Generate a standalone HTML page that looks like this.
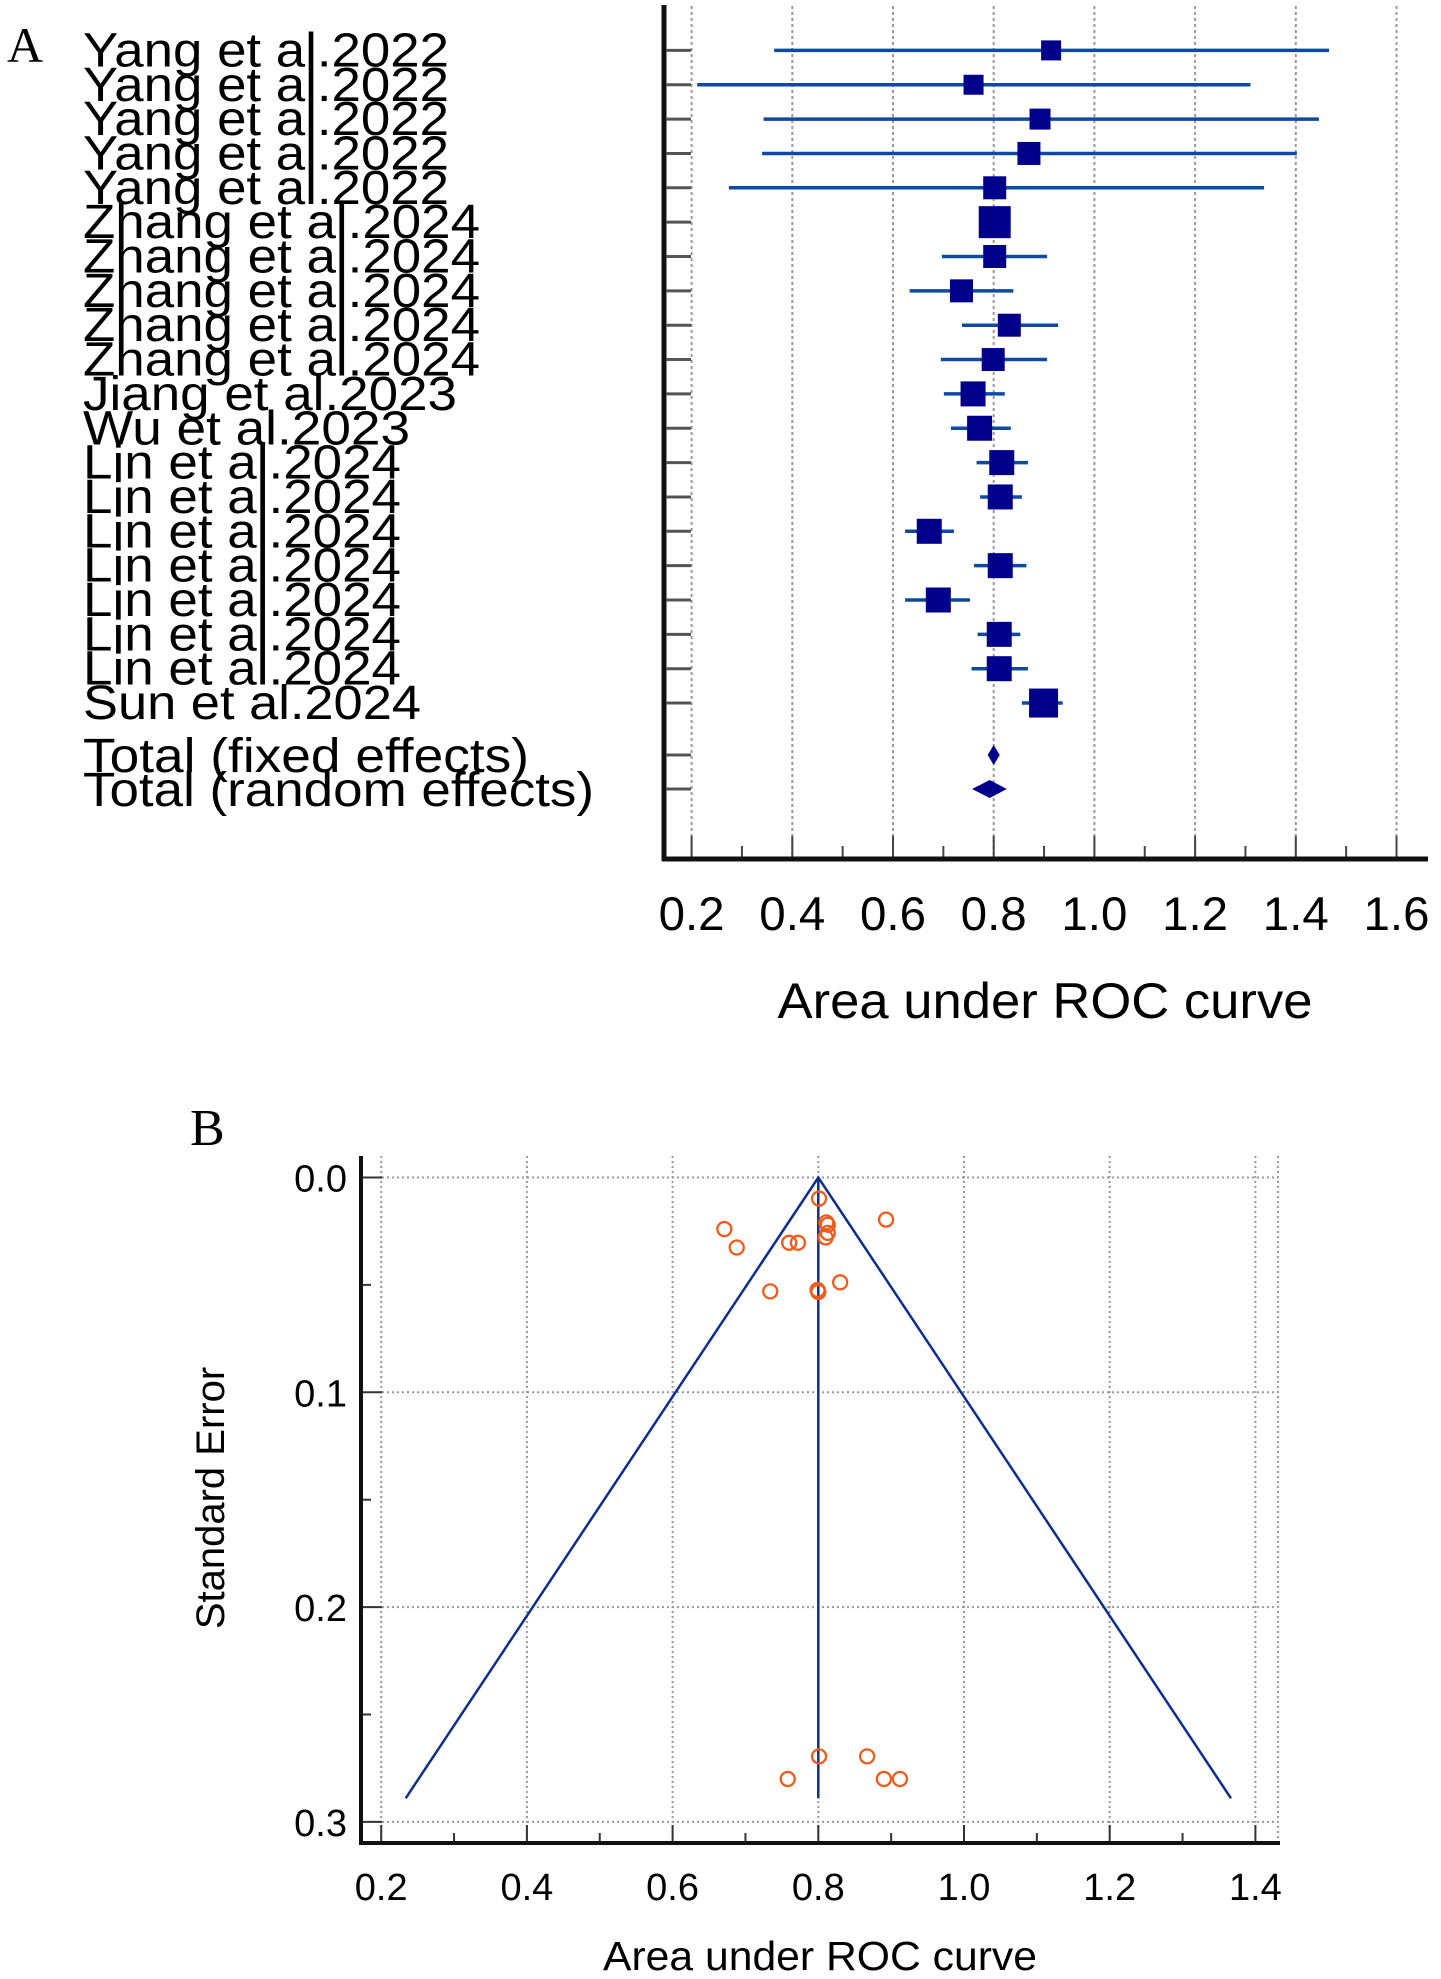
<!DOCTYPE html>
<html><head><meta charset="utf-8"><style>
html,body{margin:0;padding:0;background:#fff}
svg{display:block}
text{font-family:"Liberation Sans",Arial,sans-serif;fill:#000}
</style></head><body>
<svg id="fig" width="1441" height="1979" viewBox="0 0 1441 1979" xmlns="http://www.w3.org/2000/svg">
<text x="7" y="62" style="font-family:'Liberation Serif',serif;font-size:50px">A</text>
<text x="190" y="1145" style="font-family:'Liberation Serif',serif;font-size:52px">B</text>
<g id="forest"></g>
<g id="funnel"></g>
</svg>
<script>
// ---------- Forest plot data ----------
const studies = ["Yang et al.2022","Yang et al.2022","Yang et al.2022","Yang et al.2022","Yang et al.2022","Zhang et al.2024","Zhang et al.2024","Zhang et al.2024","Zhang et al.2024","Zhang et al.2024","Jiang et al.2023","Wu et al.2023","Lin et al.2024","Lin et al.2024","Lin et al.2024","Lin et al.2024","Lin et al.2024","Lin et al.2024","Lin et al.2024","Sun et al.2024"];
const auc = [0.914,0.760,0.892,0.870,0.802,0.802,0.802,0.736,0.831,0.799,0.759,0.772,0.816,0.813,0.672,0.813,0.690,0.811,0.811,0.899];
const ciLow = [0.364,0.211,0.343,0.340,0.274,0.785,0.697,0.633,0.737,0.695,0.701,0.715,0.766,0.773,0.624,0.761,0.624,0.768,0.756,0.856];
const ciHigh = [1.466,1.310,1.446,1.402,1.337,0.820,0.906,0.839,0.928,0.906,0.822,0.834,0.868,0.856,0.721,0.865,0.753,0.853,0.868,0.937];
const weights = [20,20,21,23,23,32,23,23,23,23,25,25,25,25,25,25,25,25,25,29];
const totalLabels = ["Total (fixed effects)","Total (random effects)"];
const totalEst = [0.800,0.792];
const totalLow = [0.788,0.757];
const totalHigh = [0.812,0.826];
const forestTicks = ["0.2","0.4","0.6","0.8","1.0","1.2","1.4","1.6"];
const labelWidths = {"Yang et al.2022":366,"Zhang et al.2024":397,"Jiang et al.2023":374,"Wu et al.2023":327,"Lin et al.2024":318,"Sun et al.2024":338,"Total (fixed effects)":446,"Total (random effects)":511};

// ---------- Funnel plot data ----------
const funAuc = [0.801,0.893,0.671,0.688,0.760,0.772,0.811,0.813,0.813,0.810,0.830,0.734,0.800,0.799,0.801,0.867,0.758,0.890,0.912];
const funSE = [0.0098,0.0196,0.024,0.0326,0.0304,0.0304,0.0209,0.022,0.0258,0.0279,0.0488,0.053,0.0533,0.0523,0.2695,0.2695,0.280,0.280,0.280];
const pooled = 0.80;
const funXTicks = ["0.2","0.4","0.6","0.8","1.0","1.2","1.4"];
const funYTicks = ["0.0","0.1","0.2","0.3"];

const NS="http://www.w3.org/2000/svg";
function mk(parent,tag,attrs){const e=document.createElementNS(NS,tag);for(const k in attrs)e.setAttribute(k,attrs[k]);parent.appendChild(e);return e;}

// ===== Forest =====
const F=document.getElementById('forest');
const fx=v=>691.6+(v-0.2)*503.5;
const fy=i=>50.4+i*34.35;
const totalY=[755,789];
// gridlines
forestTicks.forEach((t,i)=>{const v=parseFloat(t);
  const g=mk(F,'line',{x1:fx(v),x2:fx(v),y1:6,y2:858,stroke:'#999','stroke-width':2,'stroke-dasharray':'3,3'});
  
  
  const tk=mk(F,'line',{x1:fx(v),x2:fx(v),y1:836,y2:859,stroke:'#444','stroke-width':2});
  
  
  if(i<forestTicks.length-1){const m=mk(F,'line',{x1:fx(v+0.1),x2:fx(v+0.1),y1:846,y2:859,stroke:'#444','stroke-width':2});
    
    }
  const tl=mk(F,'text',{x:fx(v),y:930,'text-anchor':'middle','font-size':47,textLength:66,lengthAdjust:'spacingAndGlyphs'});
  tl.textContent=t;
  
  
});
// axes
const ya=mk(F,'line',{x1:664,x2:664,y1:5,y2:861,stroke:'#111','stroke-width':5});


const xa=mk(F,'line',{x1:662,x2:1428,y1:859,y2:859,stroke:'#111','stroke-width':5});


const xt=mk(F,'text',{x:1045,y:1018,'text-anchor':'middle','font-size':50,textLength:535,lengthAdjust:'spacingAndGlyphs'});
xt.textContent='Area under ROC curve';


// study rows
studies.forEach((s,i)=>{const y=fy(i);
  const tk=mk(F,'line',{x1:666,x2:691,y1:y,y2:y,stroke:'#555','stroke-width':3});
  
  
  const lb=mk(F,'text',{x:83,y:y+16,'font-size':48,textLength:labelWidths[s],lengthAdjust:'spacingAndGlyphs'});
  lb.textContent=s;
  
  
  const ci=mk(F,'line',{x1:fx(ciLow[i]),x2:fx(ciHigh[i]),y1:y,y2:y,stroke:'#0d4aa0','stroke-width':3.5});
  
  
  const w=weights[i];
  const sq=mk(F,'rect',{x:fx(auc[i])-w/2,y:y-w/2,width:w,height:w,fill:'#00008b'});
  
  
});
totalLabels.forEach((s,i)=>{const y=totalY[i];
  const tk=mk(F,'line',{x1:666,x2:691,y1:y,y2:y,stroke:'#555','stroke-width':3});
  
  
  const lb=mk(F,'text',{x:83,y:y+17,'font-size':48,textLength:labelWidths[s],lengthAdjust:'spacingAndGlyphs'});
  lb.textContent=s;
  
  
  const h=i===0?10:9;
  const d=mk(F,'polygon',{points:`${fx(totalLow[i])},${y} ${fx(totalEst[i])},${y-h} ${fx(totalHigh[i])},${y} ${fx(totalEst[i])},${y+h}`,fill:'#00008b'});
  
  
});

// ===== Funnel =====
const U=document.getElementById('funnel');
const ux=v=>381.2+(v-0.2)*728.5;
const uy=s=>1177.5+s*2148;
funXTicks.forEach((t,i)=>{const v=parseFloat(t);
  const g=mk(U,'line',{x1:ux(v),x2:ux(v),y1:1156,y2:1843,stroke:'#999','stroke-width':2,'stroke-dasharray':'2,3'});
  
  
  const tk=mk(U,'line',{x1:ux(v),x2:ux(v),y1:1825,y2:1844,stroke:'#333','stroke-width':2});
  
  
  if(i<funXTicks.length-1){const m=mk(U,'line',{x1:ux(v+0.1),x2:ux(v+0.1),y1:1833,y2:1844,stroke:'#333','stroke-width':2});
    
    }
  const tl=mk(U,'text',{x:ux(v),y:1900,'text-anchor':'middle','font-size':38});
  tl.textContent=t;
  
  
});
const gR=mk(U,'line',{x1:1278,x2:1278,y1:1156,y2:1843,stroke:'#999','stroke-width':2,'stroke-dasharray':'2,3'});


funYTicks.forEach((t,i)=>{const s=parseFloat(t);
  const g=mk(U,'line',{x1:382,x2:1278,y1:uy(s),y2:uy(s),stroke:'#999','stroke-width':2,'stroke-dasharray':'2,3'});
  
  
  const tk=mk(U,'line',{x1:362,x2:382,y1:uy(s),y2:uy(s),stroke:'#333','stroke-width':2});
  
  
  if(i<funYTicks.length-1){const m=mk(U,'line',{x1:362,x2:371,y1:uy(s+0.05),y2:uy(s+0.05),stroke:'#333','stroke-width':2});
    
    }
  const tl=mk(U,'text',{x:347,y:uy(s)+14,'text-anchor':'end','font-size':38});
  tl.textContent=t;
  
  
});
const uya=mk(U,'line',{x1:361,x2:361,y1:1156,y2:1845,stroke:'#111','stroke-width':4});


const uxa=mk(U,'line',{x1:359,x2:1280,y1:1843,y2:1843,stroke:'#111','stroke-width':4});


const seMax=0.289;
const fun=mk(U,'polyline',{points:`${ux(pooled-1.96*seMax)},${uy(seMax)} ${ux(pooled)},${uy(0)} ${ux(pooled+1.96*seMax)},${uy(seMax)}`,fill:'none',stroke:'#0d2f8c','stroke-width':2.5});


const vl=mk(U,'line',{x1:ux(pooled),x2:ux(pooled),y1:uy(0),y2:uy(seMax),stroke:'#0d2f8c','stroke-width':2.5});


funAuc.forEach((a,i)=>{
  const c=mk(U,'ellipse',{cx:ux(a),cy:uy(funSE[i]),rx:7,ry:7,fill:'none',stroke:'#f05a1a','stroke-width':2.3});
  
  
});
const yt=mk(U,'text',{x:0,y:0,'text-anchor':'middle','font-size':40,transform:'translate(224,1498) rotate(-90)'});
yt.textContent='Standard Error';


const ut=mk(U,'text',{x:820,y:1970,'text-anchor':'middle','font-size':41,textLength:434,lengthAdjust:'spacingAndGlyphs'});
ut.textContent='Area under ROC curve';


</script>
</body></html>
